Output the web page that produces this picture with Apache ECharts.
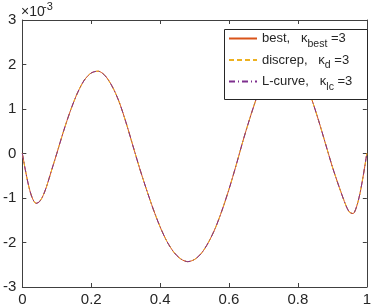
<!DOCTYPE html>
<html>
<head>
<meta charset="utf-8">
<script src="https://cdn.jsdelivr.net/npm/echarts@6/dist/echarts.min.js"></script>
<style>
html,body{margin:0;padding:0;background:#fff;}
#c{width:374px;height:307px;}
</style>
</head>
<body>
<div id="c"></div>
<script>
// x positions and values
var xs = [0, 0.01, 0.02, 0.03, 0.04, 0.05, 0.06, 0.07, 0.08, 0.09, 0.10,
  0.12, 0.14, 0.16, 0.18, 0.20, 0.22, 0.24, 0.26, 0.28, 0.30,
  0.32, 0.34, 0.36, 0.38, 0.40, 0.42, 0.44, 0.46, 0.48, 0.50,
  0.52, 0.54, 0.56, 0.58, 0.60, 0.62, 0.64, 0.66, 0.68, 0.70,
  0.72, 0.74, 0.76, 0.78, 0.80, 0.82, 0.84, 0.86, 0.88, 0.90,
  0.92, 0.94, 0.95, 0.96, 0.97, 0.98, 0.99, 1.00];
var bestVals = [0, -0.42e-3, -0.78e-3, -1.02e-3, -1.12e-3, -1.08e-3, -0.95e-3, -0.75e-3, -0.50e-3, -0.25e-3, 0,
  0.51e-3, 0.97e-3, 1.36e-3, 1.65e-3, 1.81e-3, 1.85e-3, 1.75e-3, 1.52e-3, 1.18e-3, 0.72e-3,
  0.20e-3, -0.32e-3, -0.80e-3, -1.25e-3, -1.65e-3, -1.98e-3, -2.22e-3, -2.37e-3, -2.43e-3, -2.38e-3,
  -2.24e-3, -2.00e-3, -1.68e-3, -1.27e-3, -0.80e-3, -0.28e-3, 0.27e-3, 0.78e-3, 1.25e-3, 1.65e-3,
  1.95e-3, 2.14e-3, 2.20e-3, 2.13e-3, 1.94e-3, 1.63e-3, 1.22e-3, 0.74e-3, 0.22e-3, -0.30e-3,
  -0.76e-3, -1.18e-3, -1.32e-3, -1.35e-3, -1.20e-3, -0.90e-3, -0.48e-3, 0];
var discrepVals = bestVals.slice();
var lcurveVals = bestVals.slice();
var seriesNames = ['best', 'discrep', 'L-curve'];
var kappaSubs = ['best', 'd', 'lc'];
var kappaVals = [3, 3, 3];

function pairs(v){ return xs.map(function(x,i){ return [x, v[i]]; }); }

var font = 'Liberation Sans, Arial, Helvetica, sans-serif';
var axisCol = '#404040';
var txtCol = '#262626';

var chart = echarts.init(document.getElementById('c'), null, {renderer:'canvas'});
function axisBase(pos, show){
  return {
    type:'value', position:pos,
    axisLine:{show:true, onZero:false, lineStyle:{color:axisCol, width:1}},
    axisTick:{show:true, inside:true, length:4, lineStyle:{color:axisCol, width:1}},
    splitLine:{show:false},
    axisLabel:{show:show, color:txtCol, fontFamily:font, fontSize:15}
  };
}
var xb = axisBase('bottom', true);
xb.min = 0; xb.max = 1; xb.interval = 0.2; xb.axisLabel.margin = 5;
xb.axisLabel.formatter = function(v){ return String(Math.round(v*10)/10); };
var xt = axisBase('top', false);
xt.min = 0; xt.max = 1; xt.interval = 0.2;
var yl = axisBase('left', true);
yl.min = -0.003; yl.max = 0.003; yl.interval = 0.001; yl.axisLabel.margin = 6;
yl.axisLabel.formatter = function(v){ return String(Math.round(v*1000)); };
var yr = axisBase('right', false);
yr.min = -0.003; yr.max = 0.003; yr.interval = 0.001;

var richLeg = {
  a:{fontFamily:font, fontSize:13, color:txtCol, lineHeight:22, verticalAlign:'middle'},
  s:{fontFamily:font, fontSize:10.5, color:txtCol, lineHeight:22, verticalAlign:'bottom'}
};

chart.setOption({
  animation:false,
  backgroundColor:'#fff',
  grid:{left:20, right:4, top:20, bottom:20, containLabel:false},
  xAxis:[xb, xt],
  yAxis:[yl, yr],
  legend:{
    orient:'vertical', left:224, top:29, z:10,
    backgroundColor:'transparent', borderWidth:0,
    padding:[3,4,0,4], itemGap:4, itemWidth:28, itemHeight:14,
    selectedMode:false,
    itemStyle:{opacity:0},
    textStyle:{fontFamily:font, fontSize:13, color:txtCol, rich:richLeg},
    formatter:function(n){
      var i = seriesNames.indexOf(n);
      return '{a|' + n + ',   κ}{s|' + kappaSubs[i] + '}{a| =' + kappaVals[i] + '}';
    },
    data:seriesNames
  },
  graphic:[
    {type:'rect', z:9, silent:true,
     shape:{x:224.5, y:29.5, width:143, height:70},
     style:{fill:'#fff', stroke:'#262626', lineWidth:1}},
    {type:'text', x:21, y:12, silent:true,
     style:{text:'×10', font:'14px ' + font, fill:txtCol, verticalAlign:'middle', align:'left'}},
    {type:'text', x:43, y:6.5, silent:true,
     style:{text:'-3', font:'11px ' + font, fill:txtCol, verticalAlign:'middle', align:'left'}}
  ],
  series:[
    {name:seriesNames[0], type:'line', data:pairs(bestVals), smooth:0.3, symbol:'none',
     lineStyle:{color:'#D95319', width:1, type:'solid'}, itemStyle:{color:'#D95319'}},
    {name:seriesNames[1], type:'line', data:pairs(discrepVals), smooth:0.3, symbol:'none',
     lineStyle:{color:'#EDB120', width:1, type:[5,3]}, itemStyle:{color:'#EDB120'}},
    {name:seriesNames[2], type:'line', data:pairs(lcurveVals), smooth:0.3, symbol:'none',
     lineStyle:{color:'#7E2F8E', width:1, type:[6,3,1,3]}, itemStyle:{color:'#7E2F8E'}}
  ]
});
</script>
</body>
</html>
